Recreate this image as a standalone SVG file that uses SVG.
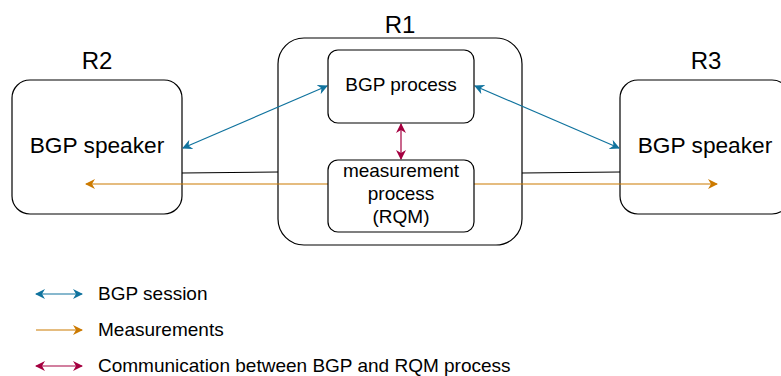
<svg xmlns="http://www.w3.org/2000/svg" width="781" height="376" viewBox="0 0 781 376">
<defs>
<style>
.box{fill:#fff;stroke:#000;stroke-width:1.2}
.t{font-family:"Liberation Sans",Arial,sans-serif;fill:#000;text-anchor:middle}
.big{font-size:24px}
.mid{font-size:22.7px}
.sm{font-size:19px}
.leg{font-family:"Liberation Sans",Arial,sans-serif;font-size:19px;fill:#000}
.blue{stroke:#10739e;stroke-width:1.2;fill:none}
.orange{stroke:#cc7a00;stroke-width:1.2;fill:none}
.red{stroke:#a50040;stroke-width:1.2;fill:none}
.blk{stroke:#000;stroke-width:1.2;fill:none}
</style>
<marker id="ab" viewBox="0 0 10 10" refX="9" refY="5" markerWidth="10" markerHeight="10" markerUnits="userSpaceOnUse" orient="auto-start-reverse"><path d="M0,0 L10,5 L0,10 L3,5 Z" fill="#10739e"/></marker>
<marker id="ao" viewBox="0 0 10 10" refX="9" refY="5" markerWidth="10" markerHeight="10" markerUnits="userSpaceOnUse" orient="auto-start-reverse"><path d="M0,0 L10,5 L0,10 L3,5 Z" fill="#cc7a00"/></marker>
<marker id="ar" viewBox="0 0 10 10" refX="9" refY="5" markerWidth="10" markerHeight="10" markerUnits="userSpaceOnUse" orient="auto-start-reverse"><path d="M0,0 L10,5 L0,10 L3,5 Z" fill="#a50040"/></marker>
</defs>
<g id="R2">
<rect class="box" x="12" y="80" width="170" height="134" rx="18"/>
<text class="t big" x="97" y="69">R2</text>
<text class="t mid" x="97" y="153">BGP speaker</text>
</g>
<g id="R1">
<rect class="box" x="278" y="38" width="244" height="207" rx="26"/>
<text class="t big" x="400" y="33">R1</text>
</g>
<g id="R3">
<rect class="box" x="620" y="80" width="170" height="134" rx="18"/>
<text class="t big" x="706" y="69">R3</text>
<text class="t mid" x="705" y="153">BGP speaker</text>
</g>
<g id="connectors">
<line class="blk" x1="182" y1="173" x2="278" y2="172"/>
<line class="blk" x1="522" y1="173" x2="620" y2="172"/>
<line class="orange" x1="328" y1="184" x2="86" y2="184" marker-end="url(#ao)"/>
<line class="orange" x1="474" y1="184" x2="717" y2="184" marker-end="url(#ao)"/>
<line class="blue" x1="183" y1="148" x2="327" y2="86" marker-start="url(#ab)" marker-end="url(#ab)"/>
<line class="blue" x1="475" y1="86" x2="619" y2="148" marker-start="url(#ab)" marker-end="url(#ab)"/>
<line class="red" x1="401" y1="124" x2="401" y2="159" marker-start="url(#ar)" marker-end="url(#ar)"/>
</g>
<g id="bgp">
<rect class="box" x="328" y="50" width="146" height="73" rx="10"/>
<text class="t sm" x="401" y="91">BGP process</text>
</g>
<g id="rqm">
<rect class="box" x="328" y="160" width="146" height="72" rx="10"/>
<text class="t sm" x="401" y="177">measurement</text>
<text class="t sm" x="401" y="200">process</text>
<text class="t sm" x="401" y="223">(RQM)</text>
</g>
<g id="legend">
<line class="blue" x1="36" y1="294" x2="82" y2="294" marker-start="url(#ab)" marker-end="url(#ab)"/>
<text class="leg" x="98" y="300">BGP session</text>
<line class="orange" x1="36" y1="330" x2="82" y2="330" marker-end="url(#ao)"/>
<text class="leg" x="98" y="336">Measurements</text>
<line class="red" x1="36" y1="366" x2="82" y2="366" marker-start="url(#ar)" marker-end="url(#ar)"/>
<text class="leg" x="98" y="372">Communication between BGP and RQM process</text>
</g>
</svg>
